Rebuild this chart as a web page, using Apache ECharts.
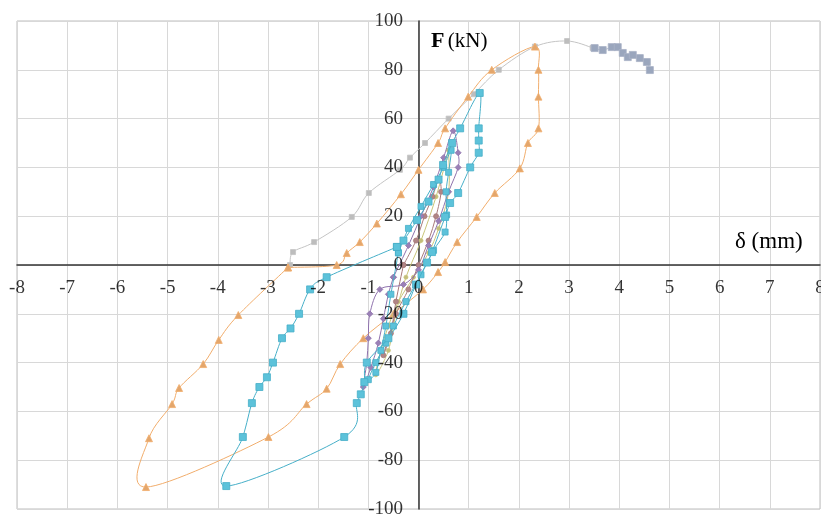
<!DOCTYPE html>
<html><head><meta charset="utf-8">
<script src="https://cdn.jsdelivr.net/npm/echarts@6/dist/echarts.min.js"></script>
<style>html,body{margin:0;padding:0;background:#fff}#c{width:821px;height:517px}</style>
</head><body><div id="c"></div>
<script>
// Tick labels
var xTicks = [-8,-7,-6,-5,-4,-3,-2,-1,0,1,2,3,4,5,6,7,8];
var yTicks = [-100,-80,-60,-40,-20,0,20,40,60,80,100];
// Series values: [delta (mm), F (kN)]
var envelopeGray = [[-2.56,0],[-2.5,5.3],[-2.08,9.4],[-1.33,19.7],[-0.99,29.5],[-0.37,39],[-0.17,44],[0.13,50],[0.6,60],[1.1,70],[1.6,80],[2.32,89.5],[2.96,91.8],[3.47,89]];
var postPeak = [[3.51,88.9],[3.67,88.1],[3.85,89.3],[3.97,89.3],[4.07,86.9],[4.17,85.2],[4.27,86.1],[4.41,84.8],[4.55,83.2],[4.61,79.9]];
var orangeLoop = [[-2.6,-1],[-1.63,0],[-1.43,4.9],[-1.17,9.4],[-0.83,17],[-0.35,29],[0.0,39],[0.39,50],[0.53,56],[0.99,69],[1.46,80],[2.32,89.5],[2.39,80],[2.39,69],[2.39,56],[2.18,50],[2.02,39.6],[1.52,29.5],[1.16,19.7],[0.77,9.4],[0.53,1.2],[0.39,-2.9],[0.09,-10],[-0.5,-20],[-1.1,-30],[-1.56,-40.6],[-1.83,-50.7],[-2.23,-57],[-2.99,-70.5],[-5.43,-91],[-5.37,-71],[-4.91,-57],[-4.77,-50.4],[-4.29,-40.6],[-3.98,-30.7],[-3.59,-20.5],[-2.6,-1]];
var cyanLoop = [[-0.43,7.4],[-0.3,10],[-0.03,18.4],[0.2,26],[0.4,35],[0.49,41],[0.67,50],[0.83,56],[1.22,70.5],[1.2,56],[1.2,51],[1.2,46],[1.03,40],[0.79,29.5],[0.63,25.4],[0.53,19.7],[0.27,5.3],[0.17,1],[-0.05,-8],[-0.3,-20],[-0.6,-30],[-1.03,-40],[-1.08,-48],[-1.15,-53],[-1.23,-56.6],[-1.48,-70.5],[-3.83,-90.6],[-3.5,-70.5],[-3.32,-56.6],[-3.17,-50],[-3.02,-46],[-2.9,-40],[-2.72,-30],[-2.55,-26],[-2.38,-20],[-2.16,-10],[-1.83,-5],[-0.43,7.4]];
var cyanSmall = [[-0.4,5],[-0.2,15],[0.05,24],[0.3,33],[0.5,40],[0.65,47],[0.6,38],[0.55,30],[0.56,20.5],[0.53,13.5],[0.3,6],[0.05,-4],[-0.25,-15],[-0.5,-25],[-0.65,-32],[-0.85,-40],[-1.0,-47],[-0.85,-44],[-0.75,-35],[-0.65,-25],[-0.55,-12],[-0.4,5]];
var purpleLoop = [[-0.5,-5],[-0.2,8],[0.05,20],[0.3,32],[0.5,44],[0.69,55],[0.79,46],[0.79,40],[0.6,30],[0.4,18],[0.2,8],[0.0,-2],[-0.3,-8],[-0.77,-10],[-0.97,-20],[-1.0,-30],[-1.03,-40],[-1.1,-50],[-0.95,-42],[-0.8,-32],[-0.7,-22],[-0.6,-12],[-0.5,-5]];
var brownLoop = [[-0.3,0],[-0.05,10],[0.12,20],[0.28,28],[0.4,35],[0.45,30],[0.35,20],[0.2,10],[0.0,0],[-0.2,-10],[-0.45,-20],[-0.6,-30],[-0.7,-37],[-0.55,-28],[-0.45,-15],[-0.3,0]];
var oliveLoop = [[0.6,47],[0.6,30],[0.4,15],[0.2,5],[-0.1,-5],[-0.4,-15],[-0.6,-25],[-0.75,-35],[-0.85,-45],[-0.6,-35],[-0.45,-20],[-0.25,-5],[0.05,10],[0.35,28],[0.6,47]];

var serif = 'Liberation Serif';
// smooth curve through the points (Catmull-Rom style, like a spreadsheet's smoothed line)
function curve(data, color, z){
  return {type:'custom',coordinateSystem:'cartesian2d',z:z,silent:true,animation:false,
    data:data.map(function(p){return [p[0],p[1]];}),
    encode:{x:0,y:1},
    renderItem:function(params, api){
      var i = params.dataIndex, n = data.length;
      if (i >= n-1) return null;
      function P(k){ k = Math.max(0, Math.min(n-1, k)); return api.coord(data[k]); }
      var p0=P(i-1), p1=P(i), p2=P(i+1), p3=P(i+2);
      return {type:'bezierCurve',shape:{x1:p1[0],y1:p1[1],x2:p2[0],y2:p2[1],
          cpx1:p1[0]+(p2[0]-p0[0])/6, cpy1:p1[1]+(p2[1]-p0[1])/6,
          cpx2:p2[0]-(p3[0]-p1[0])/6, cpy2:p2[1]-(p3[1]-p1[1])/6},
        style:{stroke:color,fill:null,lineWidth:1}};
    }};
}
function marks(data, color, mColor, symbol, size, z){
  return {type:'scatter',data:data,symbol:symbol,symbolSize:size,z:z,silent:true,animation:false,
    itemStyle:{color:mColor,borderColor:color,borderWidth:0.8,opacity:1}};
}
function labelSeries(data, pos, dist, fs){
  return {type:'scatter',data:data,symbol:'circle',symbolSize:1,silent:true,z:10,
    itemStyle:{color:'rgba(0,0,0,0)'},
    label:{show:true,position:pos,distance:dist,color:'#000',fontFamily:serif,fontSize:fs,
      formatter:function(p){return String(pos==='bottom'?p.value[0]:p.value[1]);}},
    emphasis:{disabled:true},animation:false};
}
var groups = [
  [envelopeGray,'#c4c4c4','#bdbdbd','rect',5],
  [postPeak,'#a9b3c6','#9aa6bd','rect',7],
  [orangeLoop,'#f1ad6c','#e3a66c','triangle',7],
  [oliveLoop,'#c9c57a','#c2bd7a','circle',4],
  [brownLoop,'#a87a7a','#b08585','circle',5],
  [purpleLoop,'#8f72ad','#9a80b6','diamond',6],
  [cyanSmall,'#46afc8','#5cc2da','rect',6],
  [cyanLoop,'#46afc8','#5cc2da','rect',7]
];
var series = [];
groups.forEach(function(g, k){
  series.push(curve(g[0], g[1], 2 + k));
  series.push(marks(g[0], g[1], g[2], g[3], g[4], 2 + k));
});
series.push(labelSeries(xTicks.map(function(v){return [v,0];}),'bottom',13,19));
series.push(labelSeries(yTicks.map(function(v){return [0,v];}),'left',15,19));

var chart = echarts.init(document.getElementById('c'));
chart.setOption({
  animation:false,
  grid:{left:17,right:1,top:21,bottom:8,containLabel:false,outerBoundsMode:'none',show:true,borderColor:'#bdbdbd',borderWidth:1},
  xAxis:{type:'value',min:-8,max:8,interval:1,
    axisLine:{onZero:true,lineStyle:{color:'#333',width:1.5}},
    axisTick:{show:false},axisLabel:{show:false},
    splitLine:{show:true,lineStyle:{color:'#d8d8d8',width:1}}},
  yAxis:{type:'value',min:-100,max:100,interval:20,
    axisLine:{onZero:true,lineStyle:{color:'#333',width:1.5}},
    axisTick:{show:false},axisLabel:{show:false},
    splitLine:{show:true,lineStyle:{color:'#d8d8d8',width:1}}},
  graphic:[
    {type:'text',left:431,top:30,z:20,style:{rich:{b:{fontFamily:serif,fontWeight:'bold',fontSize:22,fill:'#000'},n:{fontFamily:serif,fontSize:21,fill:'#000'}},text:'{b|F} {n|(kN)}'}},
    {type:'text',left:735,top:230,z:20,style:{text:'δ (mm)',fontFamily:serif,fontSize:23,fill:'#000'}}
  ],
  series:series
});
</script></body></html>
